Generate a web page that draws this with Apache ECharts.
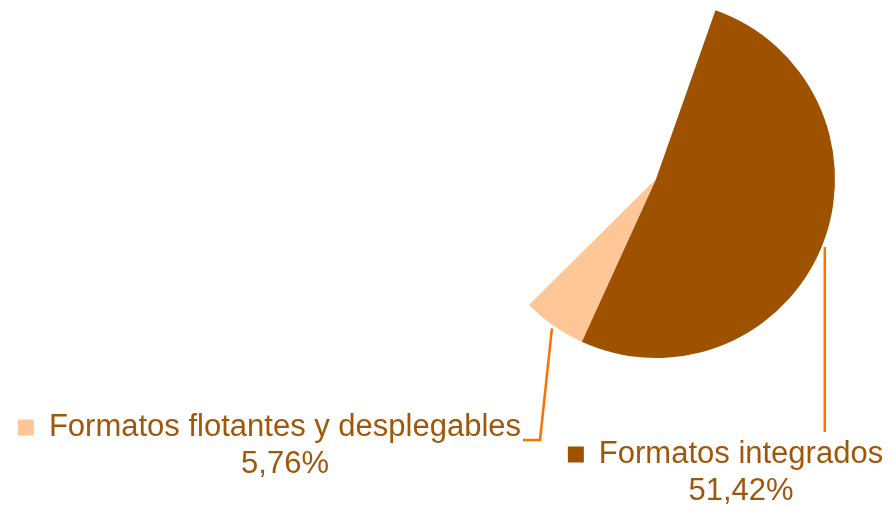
<!DOCTYPE html>
<html>
<head>
<meta charset="utf-8">
<script src="https://cdn.jsdelivr.net/npm/echarts@6/dist/echarts.min.js"></script>
<style>
    html, body { margin: 0; padding: 0; background: #fff; }
    #chart { width: 890px; height: 506px; }
</style>
</head>
<body>
<div id="chart"></div>
<script>
// datos
const names = ['Formatos integrados', 'Formatos flotantes y desplegables', 'Resto']
const values = [51.42, 5.76, 42.82]
const colors = ['#9e5200', '#ffc698', 'rgba(0,0,0,0)']
const shown = [true, true, false]

const CX = 656, CY = 179, R = 179
const START = 19.4 // grados, en sentido horario desde arriba
const textColor = '#a0570a'
const lineColor = '#ff7000'

// posicion de las etiquetas (caja de texto)
const labelPos = [
    { left: 566, top: 436, width: 319 },
    { left: 16, top: 409, width: 507 }
]

const total = values.reduce((a, b) => a + b, 0)
function midPoint (i, r) {
    let cum = 0
    for (let k = 0; k < i; k++) cum += values[k]
    const a = (START + 360 * (cum + values[i] / 2) / total) * Math.PI / 180
    return [CX + r * Math.sin(a), CY - r * Math.cos(a)]
}

const chart = echarts.init(document.getElementById('chart'))
chart.setOption({
    animation: false,
    series: [{
        type: 'pie',
        center: [CX, CY],
        radius: [0, R],
        startAngle: 90 - START,
        clockwise: true,
        avoidLabelOverlap: false,
        silent: true,
        data: names.map((n, i) => ({
            name: n,
            value: values[i],
            itemStyle: { color: colors[i] },
            label: { show: shown[i], rich: { m: { backgroundColor: colors[i] } } },
            labelLine: { show: shown[i] }
        })),
        label: {
            align: 'center',
            verticalAlign: 'top',
            formatter: p => '{m| }{g| }{t|' + p.name + '}\n{g2| }{p|' + p.value.toFixed(2).replace('.', ',') + '%}',
            rich: {
                m: { width: 16, height: 16, verticalAlign: 'middle' },
                g: { width: 15 },
                g2: { width: 31 },
                t: { fontFamily: 'Liberation Sans, Arial', fontSize: 31, lineHeight: 37, color: textColor },
                p: { fontFamily: 'Liberation Sans, Arial', fontSize: 31, lineHeight: 37, color: textColor }
            }
        },
        labelLine: {
            lineStyle: { color: lineColor, width: 2.5 }
        },
        labelLayout: function (params) {
            const i = params.dataIndex
            if (!shown[i]) return {}
            const lp = labelPos[i]
            const p0 = midPoint(i, R + 3)
            let pts
            if (i === 0) {
                pts = [p0, [p0[0], lp.top - 4]]
            } else {
                const right = lp.left + lp.width
                pts = [p0, [right + 17, lp.top + 31], [right, lp.top + 31]]
            }
            return {
                x: lp.left + lp.width / 2,
                y: lp.top,
                align: 'center',
                verticalAlign: 'top',
                labelLinePoints: pts
            }
        }
    }]
})
</script>
</body>
</html>
